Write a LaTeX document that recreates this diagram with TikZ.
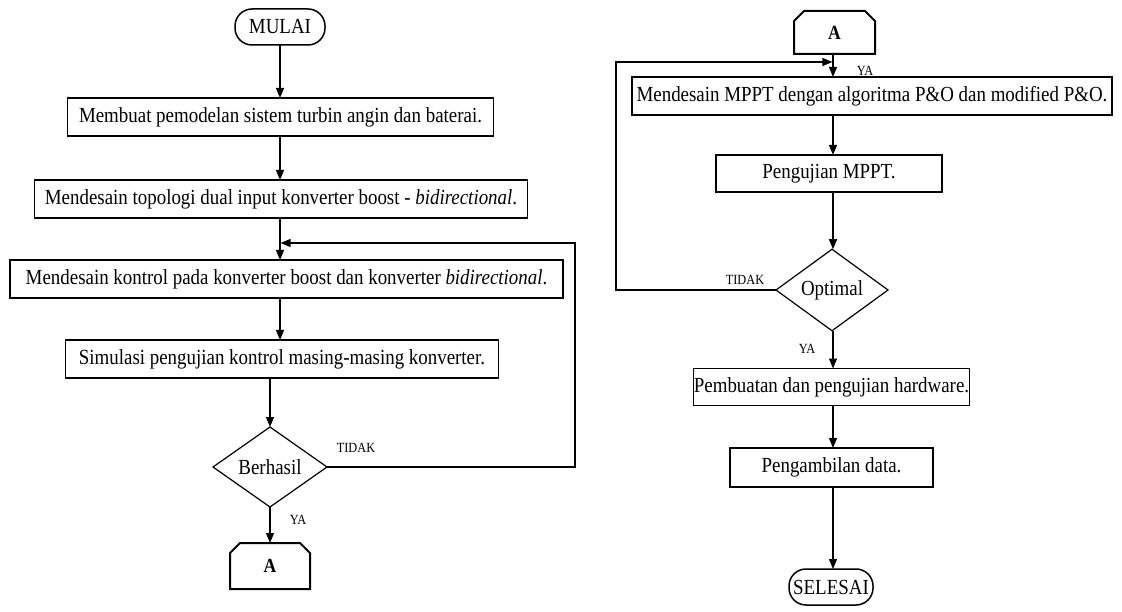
\documentclass[tikz,border=0pt]{standalone}
\usepackage{fontspec}
\setmainfont{Liberation Serif}[FakeStretch=0.88]
\usetikzlibrary{arrows.meta,shapes.geometric}
\begin{document}
\begin{tikzpicture}[x=1pt,y=-1pt,
  every node/.style={font=\fontsize{21.5}{24}\selectfont, inner sep=0pt, outer sep=0pt},
  proc/.style={draw, line width=1.2pt, minimum height=38pt},
  term/.style={draw, line width=1.5pt, rounded corners=17pt, minimum height=36pt},
  dec/.style={draw, diamond, line width=1.2pt},
  offpage/.style={minimum width=80pt, minimum height=46pt, font=\fontsize{20}{24}\selectfont\bfseries},
  lbl/.style={font=\fontsize{14}{16}\selectfont},
  arr/.style={line width=1.2pt, -{Triangle[length=10pt,width=8pt]}},
  link/.style={line width=1.2pt}]
\useasboundingbox (0,0) rectangle (1122,612);

% column guides
\coordinate (lx) at (280,0);
\coordinate (rx) at (833,0);

% left column
\node[term, minimum width=90pt] (start) at (280,27) {MULAI};
\node[proc, minimum width=426pt] (b1) at (280.5,117) {Membuat pemodelan sistem turbin angin dan baterai.};
\node[proc, minimum width=493pt] (b2) at (281,199) {Mendesain topologi dual input konverter boost - \textit{bidirectional}.};
\node[proc, minimum width=553pt] (b3) at (286.5,279) {Mendesain kontrol pada konverter boost dan konverter \textit{bidirectional}.};
\node[proc, minimum width=433pt] (b4) at (282,359) {Simulasi pengujian kontrol masing-masing konverter.};
\node[dec, minimum width=114pt, minimum height=80pt] (d1) at (270,467) {Berhasil};
\node[offpage] (a1) at (270,566) {A};
\draw[line width=2pt] (a1.south west) -- ([yshift=-10pt]a1.north west) -- ([xshift=10pt]a1.north west)
  -- ([xshift=-10pt]a1.north east) -- ([yshift=-10pt]a1.north east) -- (a1.south east) -- cycle;

% right column
\node[offpage, minimum width=81pt, minimum height=43pt] (a2) at (834.5,32.5) {A};
\draw[line width=2pt] (a2.south west) -- ([yshift=-10pt]a2.north west) -- ([xshift=10pt]a2.north west)
  -- ([xshift=-10pt]a2.north east) -- ([yshift=-10pt]a2.north east) -- (a2.south east) -- cycle;
\node[proc, minimum width=480pt] (b5) at (872,96) {Mendesain MPPT dengan algoritma P\&O dan modified P\&O.};
\node[proc, minimum width=226pt, minimum height=37pt] (b6) at (829,173.5) {Pengujian MPPT.};
\node[dec, minimum width=112pt, minimum height=80pt] (d2) at (832,290) {Optimal};
\node[proc, minimum width=269pt, minimum height=37pt] (b7) at (831.5,387) {Pembuatan dan pengujian hardware.};
\node[proc, minimum width=203pt, minimum height=39pt] (b8) at (831.5,467.5) {Pengambilan data.};
\node[term, minimum width=84pt, minimum height=36pt] (stop) at (831,587) {SELESAI};

% left connectors
\draw[arr] (start.south -| lx) -- (b1.north -| lx);
\draw[arr] (b1.south -| lx) -- (b2.north -| lx);
\draw[arr] (b2.south -| lx) -- (b3.north -| lx);
\draw[arr] (b3.south -| lx) -- (b4.north -| lx);
\draw[arr] (b4.south -| d1.north) -- (d1.north);
\draw[arr] (d1.south) -- (a1.north);
\coordinate (turnL) at (575,243);
\coordinate (fbL) at (280.6,243);
\draw[arr] (d1.east) -| (turnL) -- (fbL);

% right connectors
\draw[arr] (a2.south -| rx) -- (b5.north -| rx);
\draw[arr] (b5.south -| rx) -- (b6.north -| rx);
\draw[arr] (b6.south -| rx) -- (d2.north -| rx);
\draw[arr] (d2.south -| rx) -- (b7.north -| rx);
\draw[arr] (b7.south -| rx) -- (b8.north -| rx);
\draw[arr] (b8.south -| rx) -- (stop.north -| rx);
\coordinate (turnR) at (616,62);
\coordinate (fbR) at (832.4,62);
\draw[arr] (d2.west) -| (turnR) -- (fbR);

% branch labels
\node[lbl] (t1) at (356,448) {TIDAK};
\node[lbl] (y1) at (298,520) {YA};
\node[lbl] (t2) at (745,280) {TIDAK};
\node[lbl] (y2) at (865,71) {YA};
\node[lbl] (y3) at (807,349) {YA};
\end{tikzpicture}
\end{document}
